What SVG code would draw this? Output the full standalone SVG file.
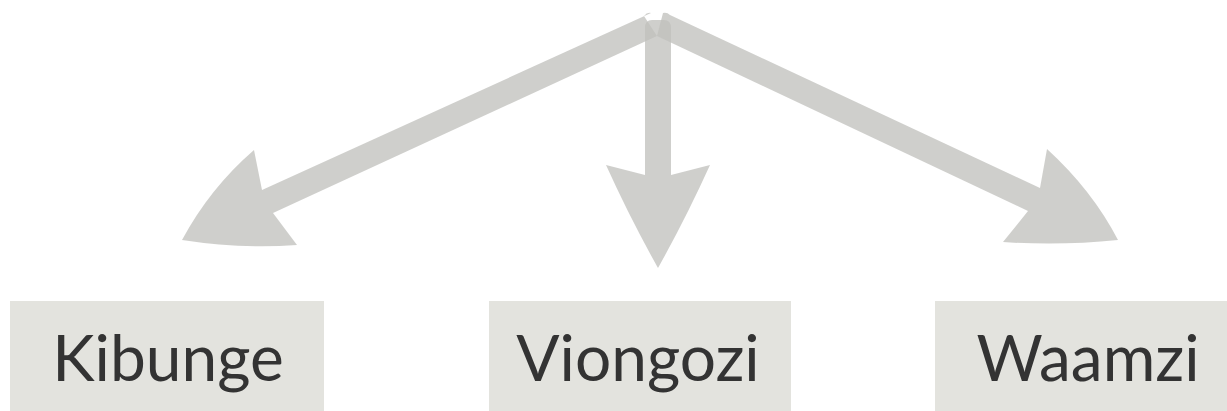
<svg xmlns="http://www.w3.org/2000/svg" width="1227" height="411" viewBox="0 0 1227 411">
  <style>
    .box { fill: #e3e3de; }
    .label { font-family: Lato, "Open Sans", "Liberation Sans", sans-serif; font-size: 64px; fill: #333333; text-anchor: middle; }
    .arrow { fill: #c1c1bd; fill-opacity: 0.77; stroke: none; }
  </style>
  <rect width="1227" height="411" fill="#ffffff"/>
  <g id="connectors">
    <path class="arrow" d="M 644,16 Q 647,12 651,13 L 262,190 L 254,150 Q 210,188 182,240 Q 240,249 297,245 L 273,213 L 657,36 Z"/>
    <path class="arrow" d="M 645,28 Q 645,20 652,20 L 664,20 Q 671,20 671,28 L 671,175 L 710,165 Q 686,218 658,268 Q 630,218 606,165 L 645,175 Z"/>
    <path class="arrow" d="M 663,13 Q 667,12 670,15 L 1040,188 L 1047,149 Q 1092,190 1118,240 Q 1060,246 1003,242 L 1028,211 L 657,36 Z"/>
  </g>
  <g id="node-kibunge">
    <rect class="box" x="10" y="301" width="314" height="110"/>
    <text class="label" x="168" y="381">Kibunge</text>
  </g>
  <g id="node-viongozi">
    <rect class="box" x="489" y="301" width="302" height="110"/>
    <text class="label" x="638" y="381">Viongozi</text>
  </g>
  <g id="node-waamzi">
    <rect class="box" x="935" y="301" width="292" height="110"/>
    <text class="label" x="1088" y="381">Waamzi</text>
  </g>
</svg>
